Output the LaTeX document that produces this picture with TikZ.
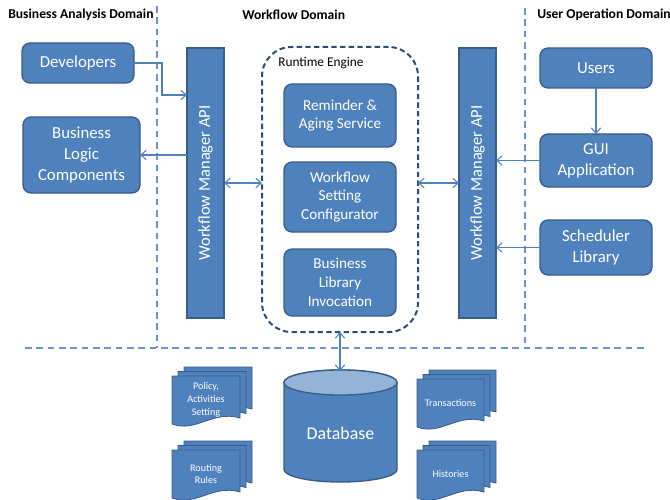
\documentclass[tikz,border=0pt]{standalone}
\usepackage{fontspec}
\setmainfont{Carlito}
\usetikzlibrary{arrows.meta}

\definecolor{boxblue}{HTML}{4F81BD}
\definecolor{boxedge}{HTML}{385D8A}
\definecolor{toplight}{HTML}{95B3D7}
\definecolor{enginedash}{HTML}{2C4D75}
\definecolor{sepblue}{HTML}{6A96CC}

% stack of three pages with a wavy lower edge
\newcommand{\docstack}[5]{%
  \foreach \o in {2,1,0}{
    \pgfmathsetmacro\px{#2+6*\o}
    \pgfmathsetmacro\py{#3-4.5*\o}
    \draw[docpage] (\px,\py) -- ++(#4,0) -- ++(0,42)
      .. controls ({\px+0.6*#4},{\py+34}) and ({\px+0.35*#4},{\py+57}) .. (\px,{\py+48}) -- cycle;
  }
  \node[doctext] (#1) at ({#2+#4/2},{#3+24}) {#5};
}

\begin{document}
\begin{tikzpicture}[
          x=0.75pt, y=-0.75pt,
          box/.style={
            rectangle,
            rounded corners=6pt,
            draw=boxedge,
            line width=1pt,
            fill=boxblue,
            text=white,
            align=center,
            inner sep=0pt,
            outer sep=0pt,
            font=\fontsize{12.6}{15.8}\selectfont,
          },
          inner/.style={
            box,
            minimum width=84pt,
            font=\fontsize{11.4}{14.2}\selectfont,
          },
          api/.style={
            rectangle,
            draw=boxedge,
            line width=1pt,
            fill=boxblue,
            minimum width=27.75pt,
            minimum height=202.5pt,
            inner sep=0pt,
            outer sep=0pt,
          },
          apitext/.style={
            rotate=90,
            text=white,
            font=\fontsize{12.4}{14}\selectfont,
          },
          engine/.style={
            rectangle,
            rounded corners=22pt,
            draw=enginedash,
            line width=1.5pt,
            dash pattern=on 4pt off 2.5pt,
            minimum width=117pt,
            minimum height=213.75pt,
            outer sep=0pt,
          },
          title/.style={
            anchor=west,
            inner sep=0pt,
            font=\fontsize{10.2}{12}\selectfont\bfseries,
          },
          link/.style={
            draw=boxblue,
            line width=0.8pt,
            -{Straight Barb[length=4pt,width=7pt]},
          },
          sep/.style={
            draw=sepblue,
            line width=0.8pt,
            dash pattern=on 5pt off 3.5pt,
          },
          docpage/.style={
            draw=boxedge,
            line width=0.6pt,
            fill=boxblue,
          },
          doctext/.style={
            text=white,
            align=center,
            inner sep=0pt,
            font=\fontsize{7.6}{9.6}\selectfont,
          },
        ]
          \useasboundingbox (0,0) rectangle (670,499);

          % domain titles and borders
          \node[title] (tba) at (8,15) {Business Analysis Domain};
          \node[title] (twf) at (242,15) {Workflow Domain};
          \node[title] (tuo) at (537,15) {User Operation Domain};
          \draw[sep] (157,6) -- (157,348);
          \draw[sep] (525,8) -- (525,348);
          \draw[sep] (25,348) -- (645,348);

          % business analysis side
          \node[box, minimum width=84pt, minimum height=30pt] (dev) at (78,63) {Developers};
          \node[box, minimum width=87.75pt, minimum height=57pt] (blc) at (81.5,155) {Business\\Logic\\Components};

          % workflow domain
          \node[api] (lapi) at (205.5,183) {};
          \node[apitext] (lapitext) at (lapi) {Workflow Manager API};
          \node[engine] (rt) at (340,189.5) {};
          \node[anchor=west, inner sep=0pt, font=\fontsize{10}{11}\selectfont] (rtlabel) at (278,63) {Runtime Engine};
          \node[inner, minimum height=47.25pt] (rem) at (340,115.5) {Reminder \&\\Aging Service};
          \node[inner, minimum height=52.5pt] (wsc) at (340,197) {Workflow\\Setting\\Configurator};
          \node[inner, minimum height=50.25pt] (bli) at (340,282.5) {Business\\Library\\Invocation};
          \node[api] (rapi) at (477.5,183) {};
          \node[apitext] (rapitext) at (rapi) {Workflow Manager API};

          % user operation side
          \node[box, minimum width=84pt, minimum height=30pt] (users) at (596,68) {Users};
          \node[box, minimum width=84pt, minimum height=39.75pt] (gui) at (596,160.5) {GUI\\Application};
          \node[box, minimum width=84pt, minimum height=41.25pt] (sched) at (596,247.5) {Scheduler\\Library};

          % database
          \draw[line width=1pt, draw=boxedge, fill=boxblue]
            (284,382.5) -- (284,469.5) arc (180:360:42.4pt and 9.4pt)
            -- (397,382.5) arc (0:180:42.4pt and 9.4pt) -- cycle;
          \draw[line width=1pt, draw=boxedge, fill=toplight] (340.5,382.5) ellipse [x radius=42.4pt, y radius=9.4pt];
          \coordinate (dbtop) at (340,371);
          \node[text=white, font=\fontsize{13.4}{15}\selectfont] (db) at (340.5,433) {Database};

          \docstack{pol}{172}{376}{68}{Policy,\\Activities\\Setting}
          \docstack{rout}{172}{450}{68}{Routing\\Rules}
          \docstack{trans}{417}{379}{67}{Transactions}
          \docstack{hist}{417}{450}{67}{Histories}

          % connectors
          \draw[link] (dev.east) -- ++(28,0) |- ([yshift=66pt]lapi.west);
          \draw[link] (lapi.west |- blc.east) -- (blc.east);
          \draw[link, {Straight Barb[length=4pt,width=7pt]}-{Straight Barb[length=4pt,width=7pt]}] (lapi.east) -- (lapi.east -| rt.west);
          \draw[link, {Straight Barb[length=4pt,width=7pt]}-{Straight Barb[length=4pt,width=7pt]}] (rt.east |- rapi.west) -- (rapi.west);
          \draw[link] (users.south) -- (gui.north);
          \draw[link] (gui.west) -- (gui.west -| rapi.east);
          \draw[link] (sched.west) -- (sched.west -| rapi.east);
          \draw[link, {Straight Barb[length=4pt,width=7pt]}-{Straight Barb[length=4pt,width=7pt]}] (rt.south) -- (dbtop);
        \end{tikzpicture}
\end{document}
